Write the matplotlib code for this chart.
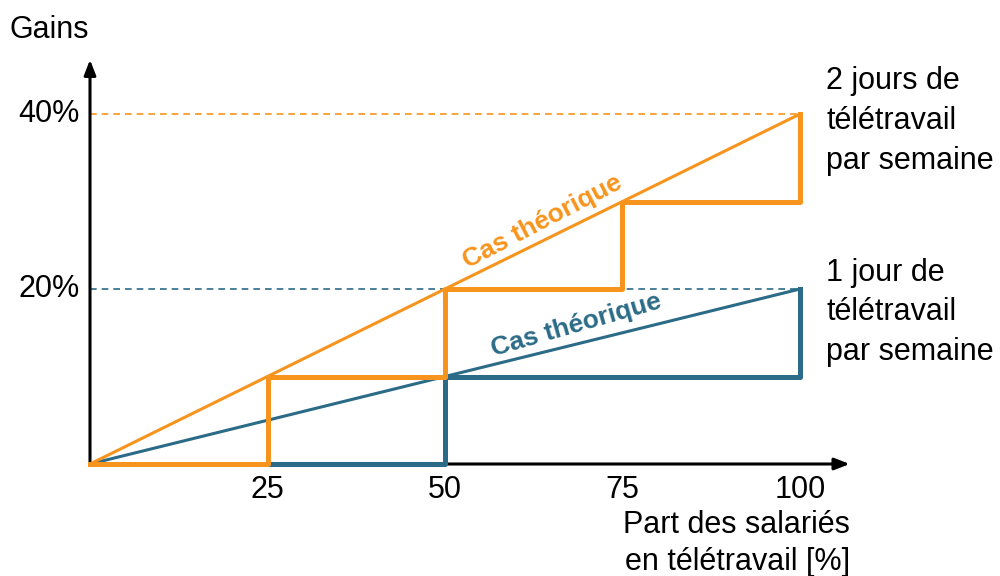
import matplotlib.pyplot as plt

plt.rcParams['font.family'] = ['Liberation Sans', 'DejaVu Sans']

ORANGE = '#F7941D'
BLUE = '#2B6B87'

# part des salariés en télétravail (%)
x_ticks = [25, 50, 75, 100]
y_ticks = [20, 40]
y_tick_labels = ['20%', '40%']

# cas théoriques (linéaires)
theo_x = [0, 100]
theo_2j = [0, 40]
theo_1j = [0, 20]

# cas réels (par paliers)
step_2j_x = [0, 25, 50, 75, 100]
step_2j_y = [0, 10, 20, 30, 40]
step_1j_x = [0, 50, 100]
step_1j_y = [0, 10, 20]

fig = plt.figure(figsize=(10, 5.76), dpi=100)
ax = fig.add_axes([0.09, 112 / 576, 107 * 7.1 / 1000, 46 * 8.75 / 576])
ax.set_xlim(0, 107)
ax.set_ylim(0, 46)
ax.axis('off')

# axes with arrows
arrow = dict(arrowstyle='-|>,head_length=0.9,head_width=0.35',
             color='black', lw=2.2, shrinkA=0, shrinkB=0)
ax.annotate('', xy=(107, 0), xytext=(0, 0), annotation_clip=False,
            arrowprops=arrow)
ax.annotate('', xy=(0, 46.2), xytext=(0, 0), annotation_clip=False,
            arrowprops=arrow)

# reference dashed lines
ax.plot([0, 100], [theo_2j[1]] * 2, color=ORANGE, lw=1.2, ls=(0, (4, 3)))
ax.plot([0, 100], [theo_1j[1]] * 2, color=BLUE, lw=1.2, ls=(0, (4, 3)))

ax.plot(theo_x, theo_1j, color=BLUE, lw=2.2, clip_on=False, zorder=3)
ax.plot(theo_x, theo_2j, color=ORANGE, lw=2.2, clip_on=False, zorder=3)
ax.step(step_1j_x, step_1j_y, where='post', color=BLUE, lw=3.6,
        clip_on=False, zorder=4)
ax.step(step_2j_x, step_2j_y, where='post', color=ORANGE, lw=3.6,
        clip_on=False, zorder=5)

for t in x_ticks:
    ax.text(t, -3, str(t), ha='center', va='center', fontsize=22)
for t, lab in zip(y_ticks, y_tick_labels):
    ax.text(-1.4, t, lab, ha='right', va='center', fontsize=22)

ax.text(-11.3, 49.6, 'Gains', ha='left', va='center', fontsize=22)
ax.text(107, -9.1, 'Part des salariés\nen télétravail [%]', ha='right',
        va='center', fontsize=22, linespacing=1.3)

ax.text(63.7, 27.7, 'Cas théorique', color=ORANGE, fontsize=19,
        fontweight='bold', rotation=27.5, ha='center', va='center',
        rotation_mode='anchor')
ax.text(68.5, 15.9, 'Cas théorique', color=BLUE, fontsize=19,
        fontweight='bold', rotation=16, ha='center', va='center',
        rotation_mode='anchor')

ax.text(103.7, 39.2, '2 jours de\ntélétravail\npar semaine', ha='left',
        va='center', fontsize=22, linespacing=1.42)
ax.text(103.7, 17.35, '1 jour de\ntélétravail\npar semaine', ha='left',
        va='center', fontsize=22, linespacing=1.42)

fig.savefig('out.png', dpi=100)
